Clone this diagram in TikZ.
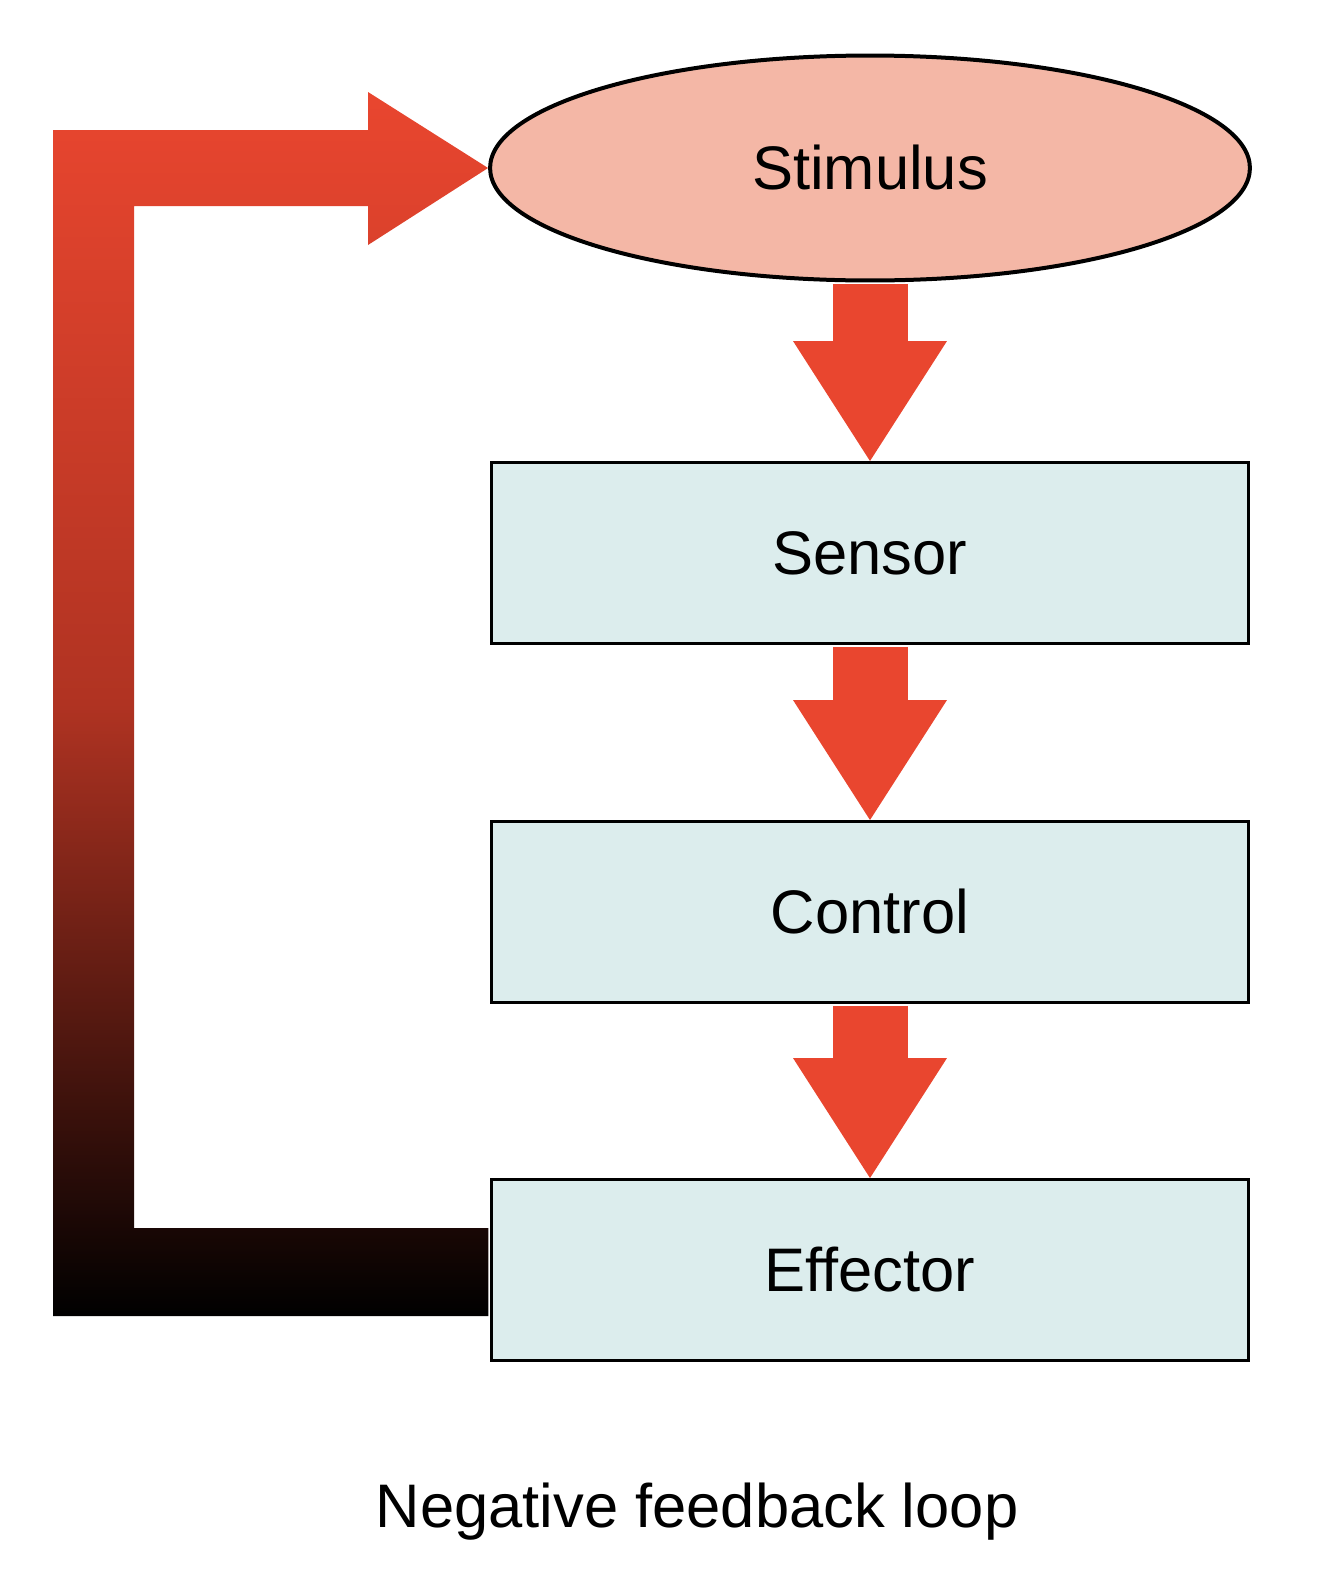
\documentclass[tikz,border=0pt]{standalone}
\usepackage{fontspec}
\setmainfont{Liberation Sans}
\usetikzlibrary{shapes.geometric,arrows.meta}
\definecolor{arrowred}{HTML}{E9462F}
\definecolor{loopmid}{HTML}{B03322}
\definecolor{stimfill}{HTML}{F4B7A6}
\definecolor{boxfill}{HTML}{DCEDED}
\begin{document}
\begin{tikzpicture}[x = 0.02cm, y = -0.02cm,
	every node/.style = {font = \fontsize{35}{40}\selectfont},
	stepbox/.style = {draw = black, line width = 0.06cm, fill = boxfill, minimum width = 15.15cm, minimum height = 3.62cm, inner sep = 0},
	downarrow/.style = {arrowred, line width = 1.5cm, -{Triangle[length = 2.4cm, width = 3.08cm, line width = 0pt]}, shorten <= 0.04cm}]
	\useasboundingbox (0, 0) rectangle (1320, 1576);
	\node[ellipse, draw = black, line width = 0.08cm, fill = stimfill, minimum width = 15.2cm, minimum height = 4.5cm, inner sep = 0] (stimulus) at (870, 168) {Stimulus};
	\foreach \y/\n/\txt in {553/sensor/Sensor, 912/control/Control, 1270/effector/Effector}{
		\node[stepbox] (\n) at (870, \y) {\txt};}
	\foreach \a/\b in {stimulus/sensor, sensor/control, control/effector}{
		\draw[downarrow] (\a.south) -- (\b.north);}
	% feedback loop back to the stimulus
	\shade[top color = arrowred, bottom color = black, middle color = loopmid] ([xshift = -0.03cm, yshift = 0.84cm]effector.west) -- (134, 1228) -- (134, 206) -- (368, 206) -- (368, 245) -- (stimulus.west) -- (368, 92) -- (368, 130) -- (53, 130) -- (53, 1316) -- ([xshift = -0.03cm, yshift = -0.92cm]effector.west) -- cycle;
	\node[anchor = base] (caption) at (697, 1527) {Negative feedback loop};
\end{tikzpicture}
\end{document}
